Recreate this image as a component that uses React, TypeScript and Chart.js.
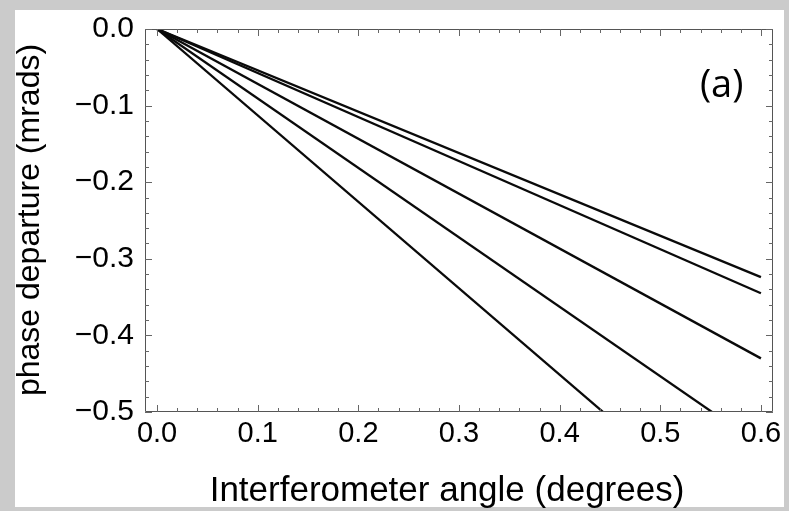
import React, { useEffect, useRef } from "react";
import { Chart, registerables } from "chart.js";

Chart.register(...registerables);

// Data
const angleX = [0, 0.6];
const curveA = [0, -0.324];
const curveB = [0, -0.345];
const curveC = [0, -0.43];
const curveD = [0, -0.544];
const curveE = [0, -0.677];

const xTickValues = [0, 0.1, 0.2, 0.3, 0.4, 0.5, 0.6];
const yTickValues = [0, -0.1, -0.2, -0.3, -0.4, -0.5];
const minorStep = 0.02;

const xTitle = "Interferometer angle (degrees)";
const yTitle = "phase departure (mrads)";
const panelLabel = "(a)";

const FONT = "'Liberation Sans', Arial, Helvetica, sans-serif";

const fmt = (v: number) => (Math.abs(v) < 1e-9 ? "0.0" : (v < 0 ? "\u2212" : "") + Math.abs(v).toFixed(1));

const framePlugin = {
  id: "framePlugin",
  afterDatasetsDraw(chart: any) {
    const { ctx, chartArea, scales } = chart;
    const { left, right, top, bottom } = chartArea;
    const xs = scales.x;
    const ys = scales.y;
    ctx.save();
    ctx.strokeStyle = "#555";
    ctx.lineWidth = 1;
    ctx.beginPath();
    ctx.rect(left + 0.5, top + 0.5, right - left - 1, bottom - top - 1);
    ctx.stroke();
    ctx.strokeStyle = "#666";
    const nx = Math.round(0.6 / minorStep);
    for (let i = 0; i <= nx; i++) {
      const v = i * minorStep;
      const px = Math.round(xs.getPixelForValue(v)) + 0.5;
      const len = i % 5 === 0 ? 7 : 4;
      ctx.beginPath();
      ctx.moveTo(px, bottom);
      ctx.lineTo(px, bottom - len);
      ctx.moveTo(px, top);
      ctx.lineTo(px, top + len);
      ctx.stroke();
    }
    const ny = Math.round(0.5 / minorStep);
    for (let i = 0; i <= ny; i++) {
      const v = -i * minorStep;
      const py = Math.round(ys.getPixelForValue(v)) + 0.5;
      const len = i % 5 === 0 ? 7 : 4;
      ctx.beginPath();
      ctx.moveTo(left, py);
      ctx.lineTo(left + len, py);
      ctx.moveTo(right, py);
      ctx.lineTo(right - len, py);
      ctx.stroke();
    }
    ctx.fillStyle = "#000";
    ctx.textAlign = "center";
    ctx.textBaseline = "alphabetic";
    ctx.font = `35px ${FONT}`;
    ctx.fillText(xTitle, 447, 501);
    ctx.save();
    ctx.textBaseline = "middle";
    ctx.font = `32px ${FONT}`;
    ctx.translate(30, 220);
    ctx.rotate(-Math.PI / 2);
    ctx.fillText(yTitle, 0, 0);
    ctx.restore();
    ctx.textBaseline = "middle";
    ctx.font = `38px 'Open Sans', sans-serif`;
    ctx.fillText(panelLabel, xs.getPixelForValue(0.561), ys.getPixelForValue(-0.075));
    ctx.restore();
  },
};

export default function App() {
  const ref = useRef<HTMLCanvasElement | null>(null);
  useEffect(() => {
    if (!ref.current) return;
    const mk = (ys: number[]) => angleX.map((x, i) => ({ x, y: ys[i] }));
    const ds = [curveA, curveB, curveC, curveD, curveE].map((c) => ({
      data: mk(c),
      borderColor: "#0a0a0a",
      borderWidth: 2.3,
      pointRadius: 0,
      fill: false,
      tension: 0,
    }));
    const chart = new Chart(ref.current, {
      type: "line",
      data: { datasets: ds },
      plugins: [framePlugin],
      options: {
        animation: false,
        responsive: false,
        layout: { padding: { top: 25, right: 16, left: 0, bottom: 0 } },
        plugins: { legend: { display: false }, tooltip: { enabled: false } },
        scales: {
          x: {
            type: "linear",
            min: -0.012,
            max: 0.612,
            grid: { display: false, drawTicks: false },
            border: { display: false },
            afterBuildTicks: (s: any) => {
              s.ticks = xTickValues.map((v) => ({ value: v }));
            },
            afterFit: (s: any) => {
              s.height = 99;
            },
            ticks: {
              color: "#000",
              font: { family: FONT, size: 29 },
              padding: 5,
              maxRotation: 0,
              autoSkip: false,
              callback: (v: any) => fmt(Number(v)),
            },
          },
          y: {
            type: "linear",
            min: -0.5,
            max: 0,
            grid: { display: false, drawTicks: false },
            border: { display: false },
            afterBuildTicks: (s: any) => {
              s.ticks = yTickValues.map((v) => ({ value: v }));
            },
            afterFit: (s: any) => {
              s.width = 145;
            },
            ticks: {
              color: "#000",
              font: { family: FONT, size: 30 },
              padding: 11,
              autoSkip: false,
              callback: (v: any) => fmt(Number(v)),
            },
          },
        },
      },
    });
    return () => chart.destroy();
  }, []);
  return (
    <div style={{ position: "fixed", left: 0, top: 0, width: 789, height: 511, background: "#cbcbcb", overflow: "hidden" }}>
      <div style={{ position: "absolute", left: 15, top: 10, width: 769, height: 497, background: "#fff" }} />
      <canvas ref={ref} width={789} height={511} style={{ position: "absolute", left: 0, top: 0, width: 789, height: 511 }} />
    </div>
  );
}
